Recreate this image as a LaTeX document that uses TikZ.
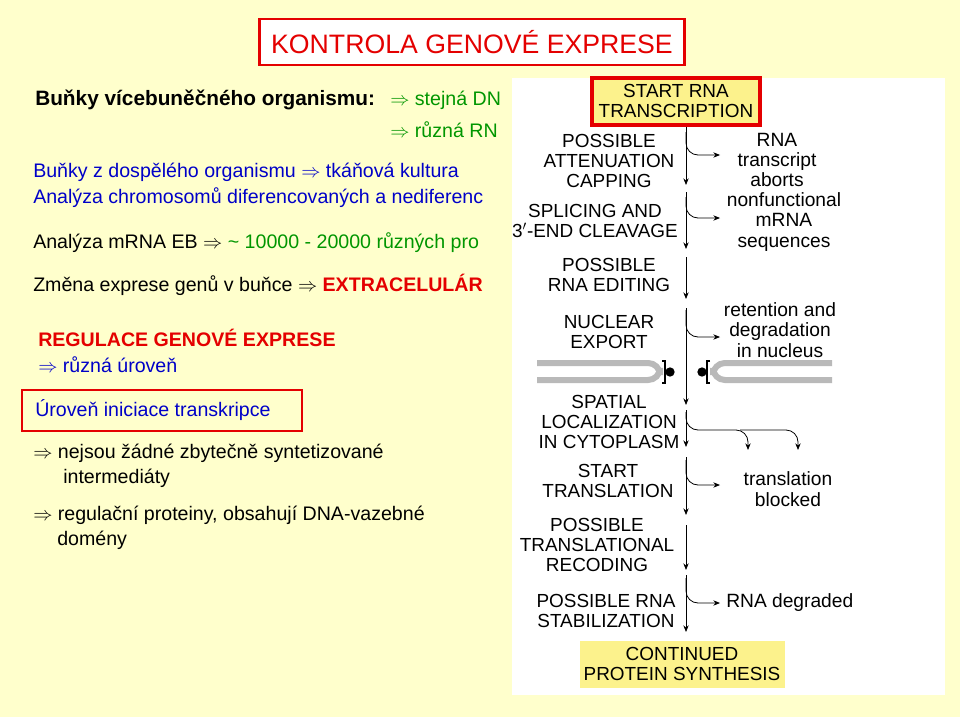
\documentclass[tikz,border=0pt]{standalone}
\usepackage{fontspec}
\setmainfont{Liberation Sans}
\usepackage{tikz}
\usetikzlibrary{arrows.meta,positioning,calc}
\definecolor{bgyel}{RGB}{255,255,204}
\definecolor{boxyel}{RGB}{252,242,140}
\definecolor{tgreen}{RGB}{0,150,0}
\definecolor{tblue}{RGB}{0,0,200}
\definecolor{tred}{RGB}{228,0,0}
\newcommand{\imp}{$\Rightarrow$}
\begin{document}
\begin{tikzpicture}[x=0.75pt,y=-0.75pt,
  txt/.style={anchor=west,inner sep=0pt,font=\fontsize{14.7}{16}\selectfont},
  stage/.style={align=center,inner sep=0pt,font=\fontsize{14.2}{15.3}\selectfont},
  result/.style={align=center,inner sep=0pt,font=\fontsize{14.4}{15.3}\selectfont},
  stem/.style={semithick,-{Stealth[length=5pt,width=4pt]}},
  side/.style={semithick,rounded corners=9pt,-{Stealth[length=5pt,width=4pt]}},
  pore/.style={line width=4.5pt,gray!55,rounded corners=9pt}]
  \useasboundingbox (0,0) rectangle (960,717);
  \fill[bgyel] (0,0) rectangle (960,717);
  % title
  \node[draw=tred,line width=2pt,fill=white,text=tred,minimum width=425*0.75pt,minimum height=46*0.75pt,font=\fontsize{20}{22}\selectfont] (title) at (472,42) {KONTROLA GENOVÉ EXPRESE};
  % left column
  \node[txt,font=\fontsize{15.6}{16}\selectfont\bfseries] (cells) at (35,100) {Buňky vícebuněčného organismu:};
  \node[txt,text=tgreen] (dna) at (390,100) {\imp{} stejná DN};
  \node[txt,text=tgreen] (rna) at (390,130) {\imp{} různá RN};
  \node[txt,text=tblue] (adult) at (33,172) {Buňky z dospělého organismu \imp{} tkáňová kultura};
  \node[txt,text=tblue] (chrom) at (33,198) {Analýza chromosomů diferencovaných a nediferenc};
  \node[txt] (mrna) at (33,243) {Analýza mRNA EB \imp{} \textcolor{tgreen}{\textasciitilde{} 10000 - 20000 různých pro}};
  \node[txt] (change) at (33,285) {Změna exprese genů v buňce \imp{} \textcolor{tred}{\bfseries EXTRACELULÁR}};
  \node[txt,text=tred,font=\fontsize{14.7}{16}\selectfont\bfseries] (reg) at (38,338) {REGULACE GENOVÉ EXPRESE};
  \node[txt,text=tblue] (level) at (38,365) {\imp{} různá úroveň};
  \draw[tred,line width=2pt] (22,390) rectangle (302,431);
  \node[txt,text=tblue] (init) at (35,410) {Úroveň iniciace transkripce};
  \node[txt] (none1) at (33,453) {\imp{} nejsou žádné zbytečně syntetizované};
  \node[txt] (none2) at (63,478) {intermediáty};
  \node[txt] (prot1) at (33,515) {\imp{} regulační proteiny, obsahují DNA-vazebné};
  \node[txt] (prot2) at (57,540) {domény};
  % figure
  \fill[white] (512,78) rectangle (945,695);
  \draw[tred,line width=2.5pt,fill=boxyel] (592,78) rectangle (760,125);
  \node[stage] (start) at (676,101) {START RNA\\TRANSCRIPTION};
  \fill[boxyel] (580,641) rectangle (785,688);
  \node[stage] (cont) at (682,664) {CONTINUED\\PROTEIN SYNTHESIS};
  \node[stage] (atten) at (609,161) {POSSIBLE\\ATTENUATION\\CAPPING};
  \node[stage] (splice) at (595,221) {SPLICING AND\\3$'$-END CLEAVAGE};
  \node[stage] (edit) at (609,275) {POSSIBLE\\RNA EDITING};
  \node[stage] (export) at (609,332) {NUCLEAR\\EXPORT};
  \node[stage] (spatial) at (609,422) {SPATIAL\\LOCALIZATION\\IN CYTOPLASM};
  \node[stage] (trans) at (608,481) {START\\TRANSLATION};
  \node[stage] (recode) at (597,545) {POSSIBLE\\TRANSLATIONAL\\RECODING};
  \node[stage] (stab) at (606,611) {POSSIBLE RNA\\STABILIZATION};
  \node[result] (abort) at (777,160) {RNA\\transcript\\aborts};
  \node[result] (nonf) at (784,222) {nonfunctional\\mRNA\\sequences};
  \node[result] (ret) at (780,330) {retention and\\degradation\\in nucleus};
  \node[result] (block) at (788,489) {translation\\blocked};
  \node[result,anchor=west] (degr) at (726,603) {RNA degraded};
  % nuclear envelope
  \draw[pore] (537,363) -- (660,363) -- (660,380) -- (537,380);
  \draw[pore] (832,363) -- (713,363) -- (713,380) -- (832,380);
  \foreach \xp/\d in {665/1,707/-1}{
    \draw[line width=1.6pt] (\xp-3*\d,361) -- (\xp,361) -- (\xp,383) -- (\xp-3*\d,383);
    \fill (\xp+5*\d,372) circle (3.5pt);}
  % main stem
  \draw[stem] (686,127) -- (686,185);
  \draw[stem] (686,192) -- (686,249);
  \draw[stem] (686,257) -- (686,299);
  \draw[stem] (686,308) -- (686,405);
  \draw[stem] (686,410) -- (686,447);
  \draw[stem] (686,457) -- (686,515);
  \draw[stem] (686,525) -- (686,570);
  \draw[stem] (686,575) -- (686,632);
  % branches
  \draw[side] (686,132) |- (720,155);
  \draw[side] (686,197) |- (720,218);
  \draw[side] (686,310) |- (720,337);
  \draw[side] (686,412) |- (748,430) -- (748,450);
  \draw[side] (740,430) -| (798,450);
  \draw[side] (686,460) |- (720,485);
  \draw[side] (686,578) |- (720,603);
\end{tikzpicture}
\end{document}
